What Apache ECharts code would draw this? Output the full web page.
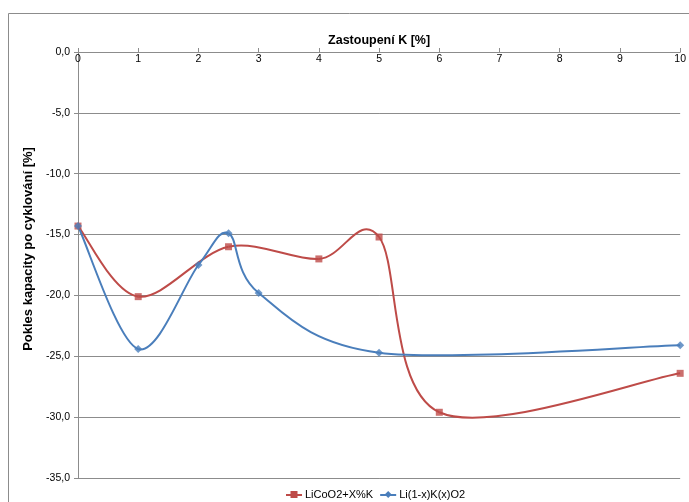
<!DOCTYPE html>
<html>
<head>
<meta charset="utf-8">
<script src="https://cdn.jsdelivr.net/npm/echarts@6/dist/echarts.min.js"></script>
<style>
  html, body { margin: 0; padding: 0; background: #fff; }
  #chart { width: 689px; height: 502px; }
</style>
</head>
<body>
<div id="chart"></div>
<script>
// Capacity loss after cycling vs. potassium content
const seriesNames = ['LiCoO2+X%K', 'Li(1-x)K(x)O2'];
const xLiCoO2 = [0, 1, 2.5, 4, 5, 6, 10];
const yLiCoO2 = [-14.3, -20.1, -16.0, -17.0, -15.2, -29.6, -26.4];
const xLiKO2 = [0, 1, 2, 2.5, 3, 5, 10];
const yLiKO2 = [-14.3, -24.4, -17.5, -14.9, -19.8, -24.7, -24.1];
const xTicks = [0, 1, 2, 3, 4, 5, 6, 7, 8, 9, 10];

const RED = '#BE4B48';
const BLUE = '#4A7EBB';
const font = 'Liberation Sans, Arial, sans-serif';
const pairs = (xs, ys) => xs.map((x, i) => [x, ys[i]]);

// Smoothed line drawn as Catmull-Rom style cubic segments in pixel space
function smoothLine(name, xs, ys, color) {
  const data = pairs(xs, ys);
  return {
    name, type: 'custom', coordinateSystem: 'cartesian2d',
    encode: { x: 0, y: 1 }, data, z: 2, silent: true,
    renderItem(params, api) {
      const i = params.dataIndex, n = data.length;
      if (i >= n - 1) return null;
      const p0 = api.coord(data[Math.max(i - 1, 0)]);
      const p1 = api.coord(data[i]);
      const p2 = api.coord(data[i + 1]);
      const p3 = api.coord(data[Math.min(i + 2, n - 1)]);
      return {
        type: 'bezierCurve',
        shape: {
          x1: p1[0], y1: p1[1], x2: p2[0], y2: p2[1],
          cpx1: p1[0] + (p2[0] - p0[0]) / 6, cpy1: p1[1] + (p2[1] - p0[1]) / 6,
          cpx2: p2[0] - (p3[0] - p1[0]) / 6, cpy2: p2[1] - (p3[1] - p1[1]) / 6
        },
        style: { stroke: color, lineWidth: 2, fill: null }
      };
    }
  };
}

function markers(name, xs, ys, color, symbol, size) {
  return {
    name, type: 'scatter', data: pairs(xs, ys), z: 3,
    symbol, symbolSize: size, itemStyle: { color }
  };
}

const chart = echarts.init(document.getElementById('chart'), null, { renderer: 'canvas' });
chart.setOption({
  animation: false,
  backgroundColor: '#fff',
  textStyle: { fontFamily: font },
  graphic: [{
    type: 'rect',
    shape: { x: 8.5, y: 13.5, width: 700, height: 520 },
    style: { fill: 'none', stroke: '#8c8c8c', lineWidth: 1 },
    silent: true
  }],
  grid: { left: 78, top: 52, right: 8, bottom: 24 },
  legend: {
    left: 286, bottom: 2, padding: 0,
    itemWidth: 16, itemHeight: 7, itemGap: 7,
    textStyle: { fontSize: 11, color: '#000', fontFamily: font, padding: [0, 0, 0, -2] },
    data: [
      { name: seriesNames[0], icon: 'path://M0,3.1h16v1.8h-16z M4.5,0h7v7h-7z', itemStyle: { color: RED } },
      { name: seriesNames[1], icon: 'path://M0,3.1h16v1.8h-16z M8,0l3.5,3.5l-3.5,3.5l-3.5,-3.5z', itemStyle: { color: BLUE } }
    ]
  },
  xAxis: {
    type: 'value', position: 'top',
    min: xTicks[0], max: xTicks[xTicks.length - 1], interval: 1,
    name: 'Zastoupení K [%]', nameLocation: 'middle', nameGap: 5,
    nameTextStyle: { fontWeight: 'bold', fontSize: 12.5, color: '#000', fontFamily: font },
    axisLine: { lineStyle: { color: '#8c8c8c' } },
    axisTick: { show: true, length: 4, lineStyle: { color: '#8c8c8c' } },
    axisLabel: { fontSize: 10.5, color: '#000', margin: -13, fontFamily: font },
    splitLine: { show: false }
  },
  yAxis: {
    type: 'value', min: -35, max: 0, interval: 5,
    name: 'Pokles kapacity po cyklování [%]', nameLocation: 'middle', nameGap: 42,
    nameRotate: 90,
    nameTextStyle: {
      fontWeight: 'bold', fontSize: 13, color: '#000', fontFamily: font,
      padding: [0, 0, 0, 32]
    },
    axisLine: { show: true, lineStyle: { color: '#8c8c8c' } },
    axisTick: { show: true, length: 4, lineStyle: { color: '#8c8c8c' } },
    axisLabel: {
      fontSize: 10.5, color: '#000', margin: 8, fontFamily: font,
      formatter: v => v.toFixed(1).replace('.', ',')
    },
    splitLine: { lineStyle: { color: '#8c8c8c' } }
  },
  series: [
    smoothLine(seriesNames[0], xLiCoO2, yLiCoO2, RED),
    smoothLine(seriesNames[1], xLiKO2, yLiKO2, BLUE),
    markers(seriesNames[0], xLiCoO2, yLiCoO2, RED, 'rect', 7),
    markers(seriesNames[1], xLiKO2, yLiKO2, BLUE, 'diamond', 8)
  ]
});
</script>
</body>
</html>
